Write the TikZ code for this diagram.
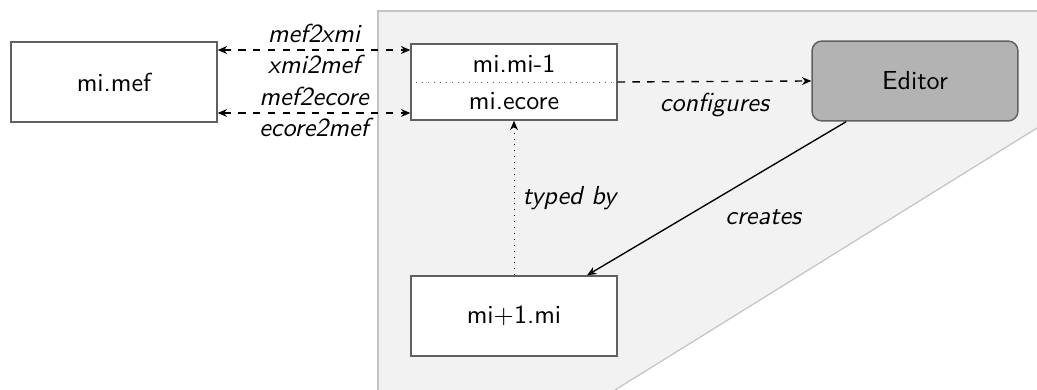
\documentclass[tikz,border=0pt]{standalone}
\usetikzlibrary{arrows.meta,calc}
\definecolor{boxline}{HTML}{606060}
\definecolor{regionfill}{HTML}{F2F2F2}
\definecolor{regionline}{HTML}{C4C4C4}
\definecolor{editorfill}{HTML}{B3B3B3}
\begin{document}
\begin{tikzpicture}[x=0.4065pt,y=-0.4065pt,
  font=\sffamily\fontsize{10.6pt}{12.7pt}\selectfont,
  modelbox/.style={draw=boxline,line width=0.6pt,fill=white,minimum width=83.7pt,minimum height=32.5pt,inner sep=0pt},
  editorbox/.style={draw=boxline,line width=0.6pt,fill=editorfill,rounded corners=4pt,minimum width=83.7pt,minimum height=32.5pt,inner sep=0pt},
  conn/.style={line width=0.55pt},
  tip/.style={-{Stealth[length=3.8pt,width=3.2pt]}},
  bitip/.style={{Stealth[length=3.8pt,width=3.2pt]}-{Stealth[length=3.8pt,width=3.2pt]}},
  lbl/.style={font=\sffamily\itshape\fontsize{10.6pt}{12.7pt}\selectfont}
]
\useasboundingbox (0,0) rectangle (1037,390);
% region
\fill[regionfill] (378,11) -- (1037,11) -- (1037,128) -- (615,390) -- (378,390) -- cycle;
\draw[regionline,line width=0.5pt] (378,390) -- (378,11) -- (1037,11);
\draw[regionline,line width=0.5pt] (1037,128) -- (615,390);
% nodes
\node[modelbox] (mef) at (114,82) {mi.mef};
\node[modelbox,minimum height=30.9pt] (mibox) at (514,82) {};
\node (mimi) at (514,64) {mi.mi-1};
\node (miecore) at (514,101) {mi.ecore};
\draw[boxline,dotted,line width=0.4pt] (mibox.west) -- (mibox.east);
\node[editorbox] (editor) at (915,81) {Editor};
\node[modelbox] (minext) at (514,316) {mi+1.mi};
% left connectors
\draw[conn,dashed,bitip]
  ([yshift=13pt]mef.east) -- node[lbl,above,yshift=-0.8pt]{mef2xmi} node[lbl,below,yshift=1.5pt]{xmi2mef} ([yshift=13pt]mibox.west);
\draw[conn,dashed,bitip]
  ([yshift=-12.6pt]mef.east) -- node[lbl,above,yshift=-0.8pt]{mef2ecore} node[lbl,below,yshift=1.5pt]{ecore2mef} ([yshift=-12.6pt]mibox.west);
% configures
\draw[conn,dashed,tip] (mibox.east) -- node[lbl,below,yshift=-1pt]{configures} (editor.west);
% creates
\draw[conn,tip] ([xshift=-28pt]editor.south) -- node[lbl,below right,xshift=0pt,yshift=-1pt]{creates} ([xshift=29.7pt]minext.north);
% typed by
\draw[line width=0.4pt,dotted,tip] (minext.north) -- node[lbl,right]{typed by} (mibox.south);
\end{tikzpicture}
\end{document}
